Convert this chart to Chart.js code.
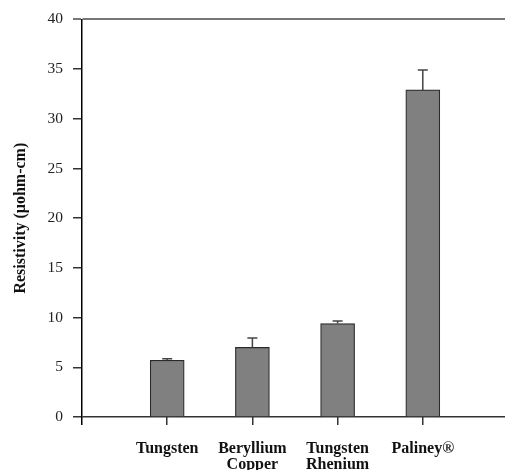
<!DOCTYPE html>
<html>
<head>
<meta charset="utf-8">
<script src="https://cdn.jsdelivr.net/npm/chart.js@4.4.1/dist/chart.umd.min.js"></script>
<style>
  html, body { margin: 0; padding: 0; background: #fff; overflow: hidden; }
  body { width: 505px; height: 470px; }
  #wrap { width: 524px; height: 470px; position: relative; }
</style>
</head>
<body>
<div id="wrap"><canvas id="chart"></canvas></div>
<script>
// data
const categories = ['Tungsten', 'Beryllium Copper', 'Tungsten Rhenium', 'Paliney®'];
const resistivity = [5.7, 7.0, 9.4, 32.9];
const errorUp = [0.15, 0.95, 0.25, 2.0];
const yTicks = [0, 5, 10, 15, 20, 25, 30, 35, 40];

// empty slot on each side, like the original plot
const labels = ['', ...categories.map(c => c.split(' ')), ''];
const barData = [null, ...resistivity, null];

const errorBars = {
  id: 'errorBars',
  afterDatasetsDraw(chart) {
    const { ctx, scales: { x, y } } = chart;
    ctx.save();
    ctx.strokeStyle = '#444';
    ctx.lineWidth = 1.5;
    resistivity.forEach((v, i) => {
      const px = x.getPixelForValue(i + 1);
      const y0 = y.getPixelForValue(v);
      const y1 = y.getPixelForValue(v + errorUp[i]);
      ctx.beginPath();
      ctx.moveTo(px, y0);
      ctx.lineTo(px, y1);
      ctx.moveTo(px - 5, y1);
      ctx.lineTo(px + 5, y1);
      ctx.stroke();
    });
    ctx.restore();
  }
};

new Chart(document.getElementById('chart'), {
  type: 'bar',
  data: {
    labels: labels,
    datasets: [{
      data: barData,
      backgroundColor: '#808080',
      borderColor: '#2a2a2a',
      borderWidth: 1.2,
      barThickness: 34
    }]
  },
  options: {
    responsive: true,
    maintainAspectRatio: false,
    animation: false,
    layout: { padding: { top: 16, left: 0, right: 0, bottom: 0 } },
    plugins: { legend: { display: false }, tooltip: { enabled: false } },
    scales: {
      x: {
        offset: false,
        afterFit: s => { s.height = 53; },
        border: { display: false },
        grid: {
          offset: false,
          drawOnChartArea: false,
          tickLength: 8,
          lineWidth: 1.5,
          color: c => c.index === 0 ? '#000' : (c.index > 4 ? 'transparent' : '#333')
        },
        ticks: {
          autoSkip: false,
          maxRotation: 0,
          padding: 16,
          color: '#111',
          font: { family: 'Liberation Serif', size: 16, weight: 'bold', lineHeight: 1.0 }
        }
      },
      y: {
        min: 0,
        max: 40,
        afterFit: s => { s.width = 82; },
        afterBuildTicks: s => { s.ticks = yTicks.map(v => ({ value: v })); },
        border: { display: true, color: '#000', width: 1.5 },
        grid: {
          tickLength: 9,
          lineWidth: c => c.tick && c.tick.value === 40 ? 2 : 1.5,
          color: c => {
            if (!c.tick) return 'transparent';
            if (c.tick.value === 40) return '#777';
            if (c.tick.value === 0) return '#333';
            return 'transparent';
          },
          tickColor: c => c.tick && c.tick.value === 40 ? '#777' : '#333'
        },
        ticks: {
          padding: 10,
          color: '#222',
          font: { family: 'Liberation Serif', size: 15.5 }
        },
        title: {
          display: true,
          text: 'Resistivity (μohm-cm)',
          color: '#111',
          padding: { top: 11, bottom: 0 },
          font: { family: 'Liberation Serif', size: 16, weight: 'bold' }
        }
      }
    }
  },
  plugins: [errorBars]
});
</script>
</body>
</html>
